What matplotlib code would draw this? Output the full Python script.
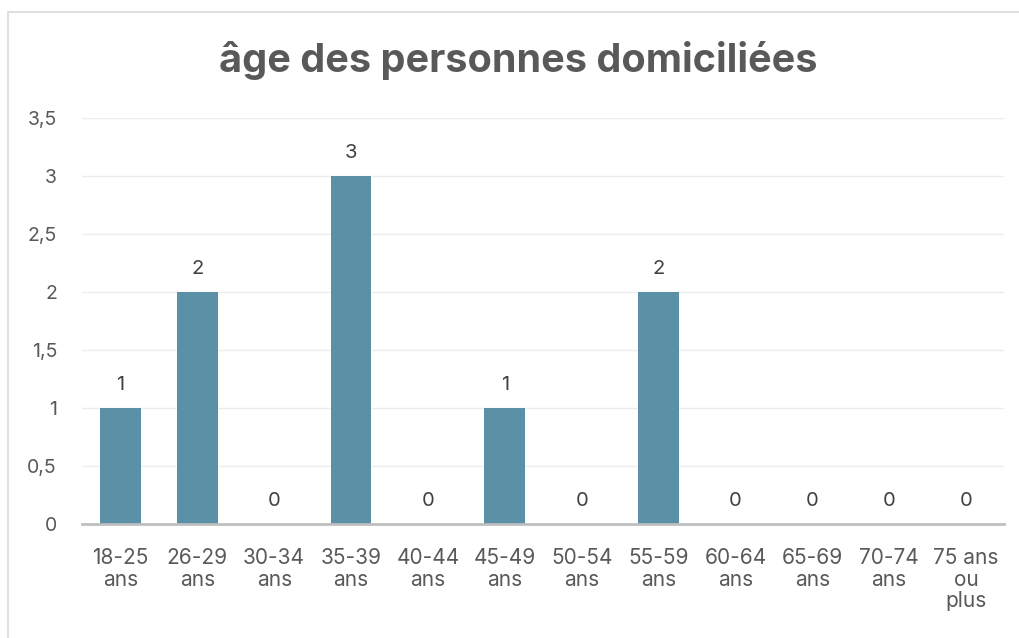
import matplotlib.pyplot as plt
from matplotlib.patches import Rectangle

# Données
categories = ["18-25\nans", "26-29\nans", "30-34\nans", "35-39\nans", "40-44\nans",
              "45-49\nans", "50-54\nans", "55-59\nans", "60-64\nans", "65-69\nans",
              "70-74\nans", "75 ans\nou\nplus"]
valeurs = [1, 2, 0, 3, 0, 1, 0, 2, 0, 0, 0, 0]
yticks = [0, 0.5, 1, 1.5, 2, 2.5, 3, 3.5]
ytick_labels = ["0", "0,5", "1", "1,5", "2", "2,5", "3", "3,5"]

gris = "#595959"
plt.rcParams['font.family'] = ['Inter', 'DejaVu Sans']

fig = plt.figure(figsize=(10.2, 6.38), dpi=100)
W, H = 1020, 638

# Cadre du graphique (coupé à droite et en bas)
fig.patches.append(Rectangle((8 / W, -0.5), 1.5, 1.5 - 12 / H, transform=fig.transFigure,
                             fill=False, edgecolor="#D9D9D9", linewidth=1.2))

ax = fig.add_axes([82 / W, 1 - 524 / H, (1004.5 - 82) / W, (524 - 118) / H])
x = list(range(len(valeurs)))
ax.bar(x, valeurs, width=0.53, color="#5B91A7", zorder=3)

for xi, v in zip(x, valeurs):
    ax.annotate(str(v), (xi, v), xytext=(0, 16.5), textcoords="offset points",
                ha="center", va="center", fontsize=14.5, color="#404040")

ax.set_xlim(-0.5, len(valeurs) - 0.5)
ax.set_ylim(0, 3.5)
ax.set_yticks(yticks)
ax.set_yticklabels(ytick_labels)
ax.set_xticks(x)
ax.set_xticklabels(categories, linespacing=1.12, va="top", fontsize=15)
ax.tick_params(axis="both", length=0, labelcolor=gris)
ax.tick_params(axis="y", labelsize=14)
ax.tick_params(axis="x", pad=17)
ax.tick_params(axis="y", pad=18)

ax.grid(axis="y", color="#EDEDED", linewidth=1, zorder=0)
for s in ["top", "right", "left"]:
    ax.spines[s].set_visible(False)
ax.spines["bottom"].set_color("#BFBFBF")
ax.spines["bottom"].set_linewidth(2)
ax.spines["bottom"].set_zorder(4)

fig.text(518 / W, 1 - 60 / H, "âge des personnes domiciliées", ha="center", va="center",
         fontsize=28.5, fontweight="bold", color=gris)

fig.savefig("out.png", dpi=100)
